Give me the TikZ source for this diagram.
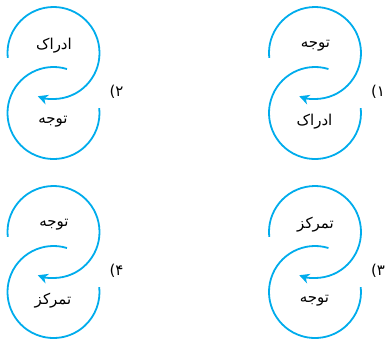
\documentclass[tikz,border=0pt]{standalone}
\usepackage{fontspec}
\newfontfamily\arabicfont[Script=Arabic]{DejaVu Sans}
\newfontfamily\plainsans{DejaVu Sans}
\TeXXeTstate=1
\usetikzlibrary{arrows.meta}
\definecolor{loopblue}{RGB}{0,172,236}

\begin{document}
\begin{tikzpicture}[
  x=1pt, y=1pt,
  every node/.style={font=\arabicfont\fontsize{15}{17}\selectfont},
  loopline/.style={draw=loopblue, line width=1.8pt},
  word/.style={inner sep=1pt},
  numlabel/.style={inner sep=0pt, font=\arabicfont\fontsize{15}{17}\selectfont},
  >={Stealth[length=10pt, width=10pt, inset=3pt]}
]
\useasboundingbox (0,0) rectangle (391,-340);
% four panels: offset x / offset y / upper word / lower word / number / id
\foreach \dx/\dy/\upword/\downword/\num/\id in {
    0/0/ادراک/توجه/۲/a,
    261.5/0/توجه/ادراک/۱/b,
    0/-179/توجه/تمرکز/۴/c,
    261.5/-179/تمرکز/توجه/۳/d}{
  % centres of the two circles
  \coordinate (cu\id) at (53.5+\dx, -53+\dy);
  \coordinate (cl\id) at (53.5+\dx, -113+\dy);
  % words
  \node[word] (up\id) at (54+\dx, -46+\dy) {\beginR\upword\endR};
  \node[word] (down\id) at (53+\dx, -122+\dy) {\beginR\downword\endR};
  \node[numlabel] (num\id) at (116.5+\dx, -91.5+\dy) {\hbox{\plainsans(}\hbox{\num}};
  % upper loop ends in the arrow, lower loop is open
  \draw[loopline, ->] (cu\id) ++(186:46) arc[start angle=186, end angle=-110, radius=46];
  \draw[loopline] (cl\id) ++(73:46) arc[start angle=73, end angle=366, radius=46];
}
\end{tikzpicture}
\end{document}
